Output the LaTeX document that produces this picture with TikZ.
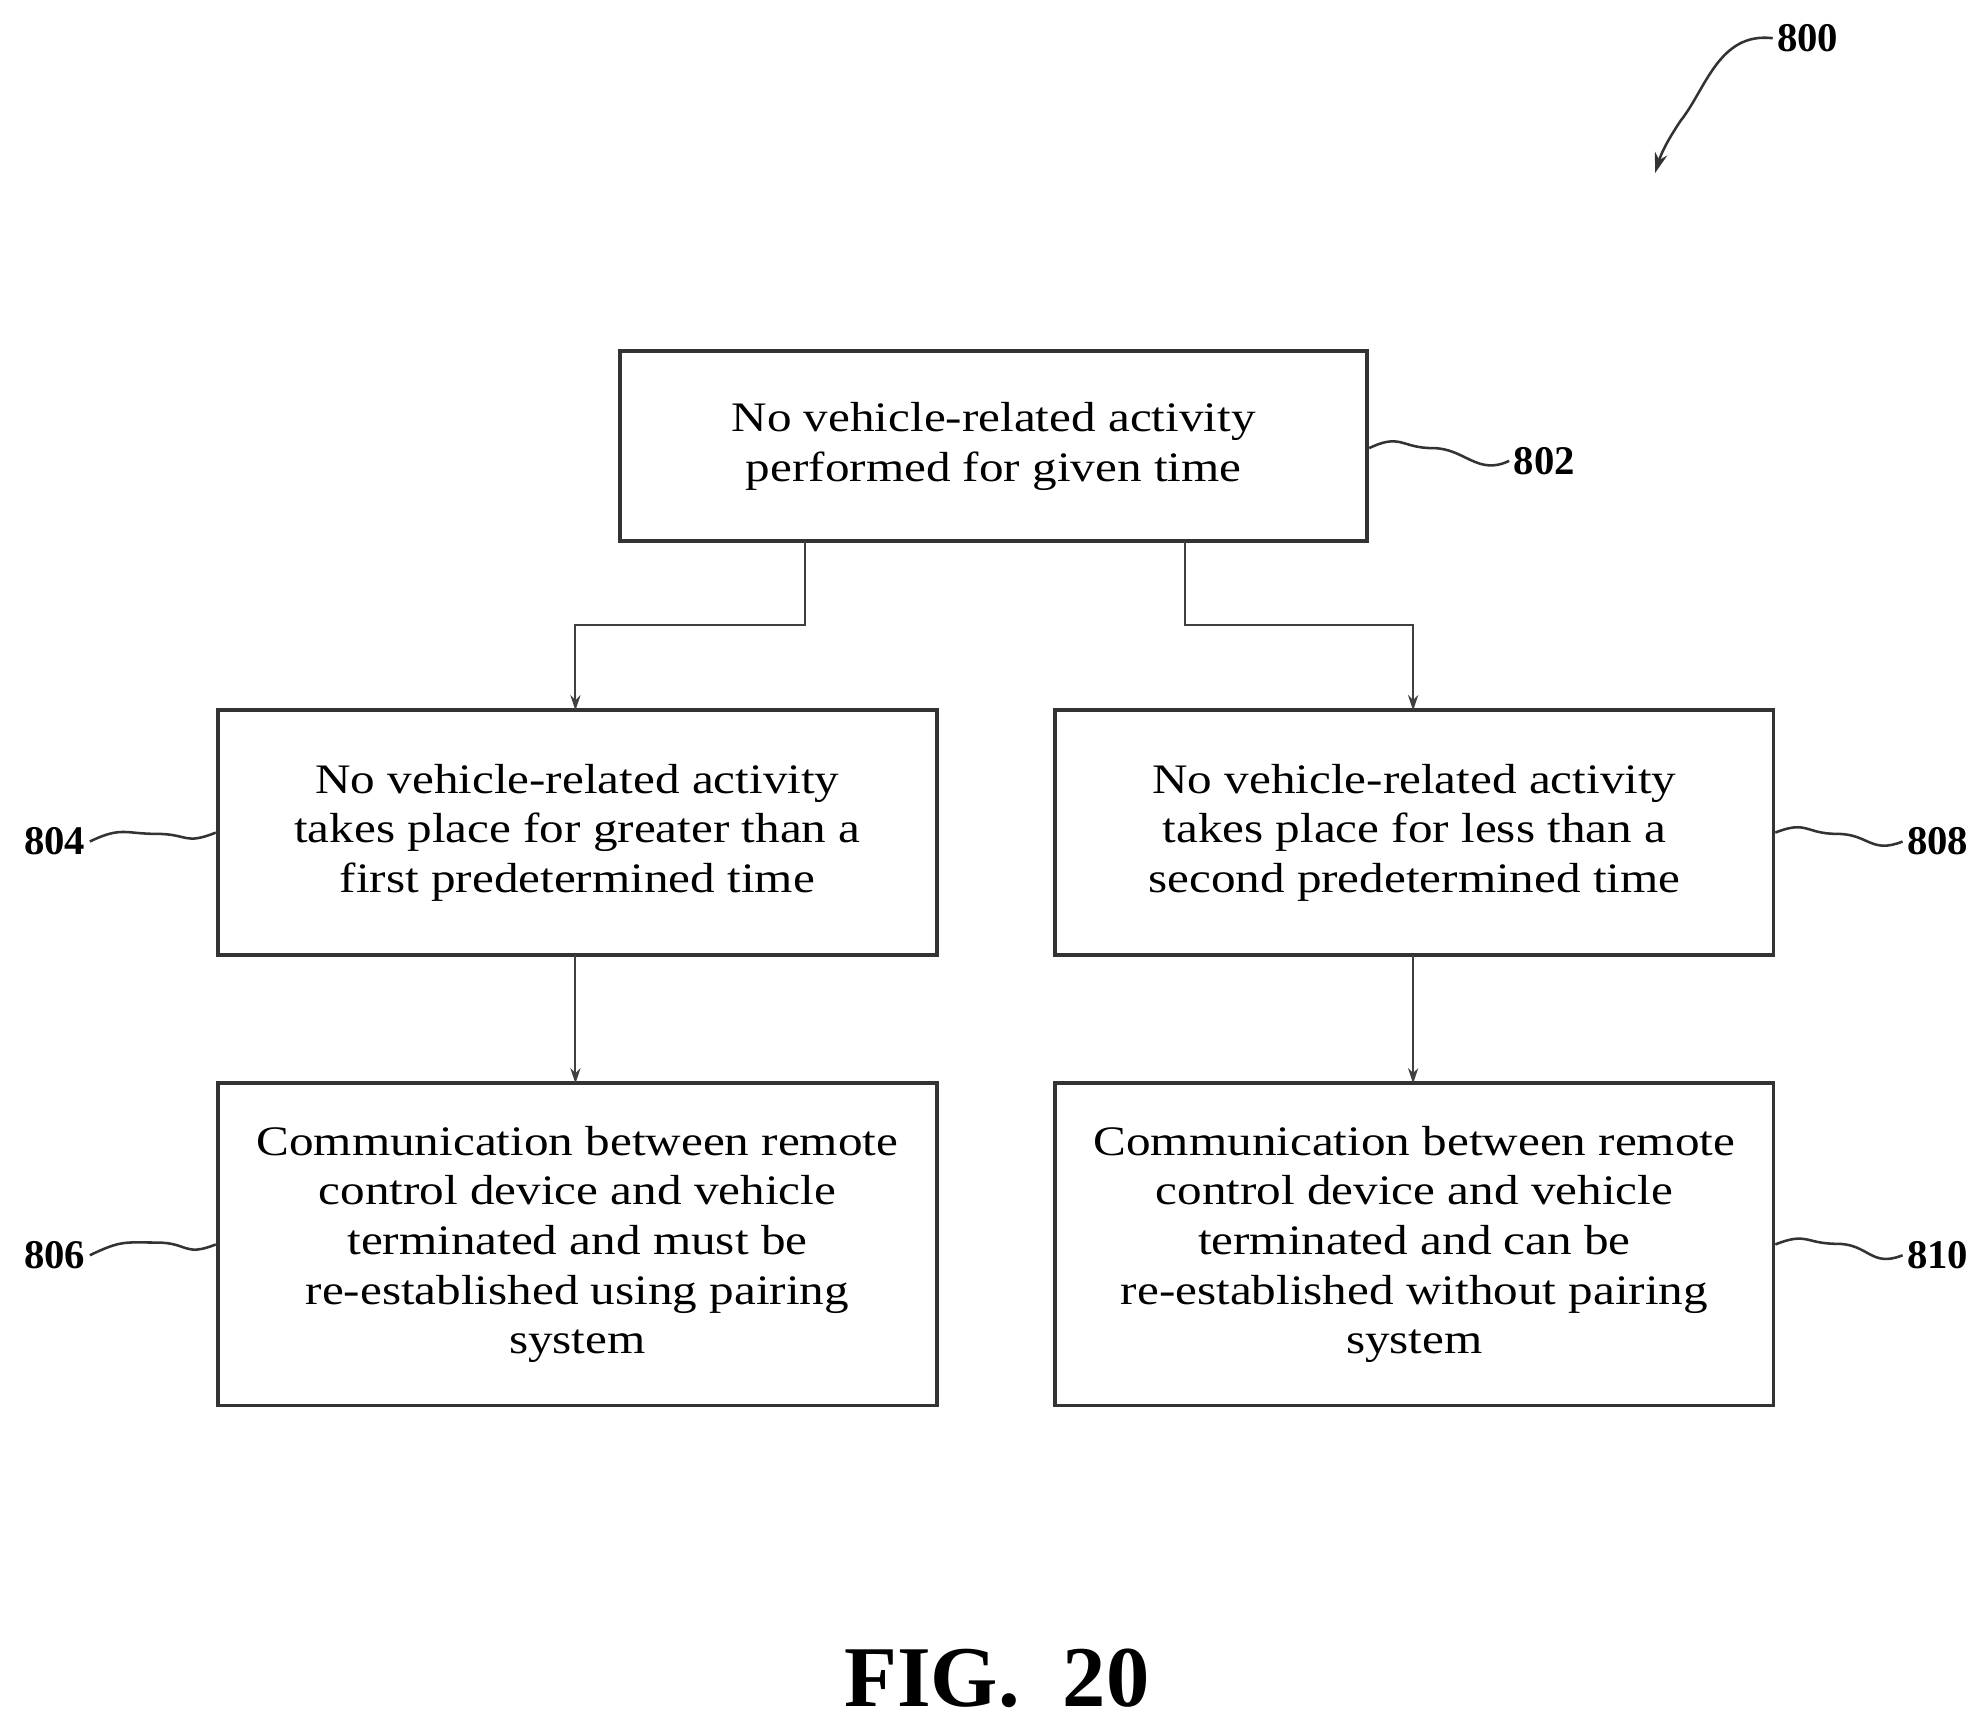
\documentclass[tikz,border=0pt]{standalone}
\usepackage{fontspec}
\setmainfont{Liberation Serif}
\newfontfamily\wide[FakeStretch=1.17]{Liberation Serif}
\usetikzlibrary{arrows.meta}
\begin{document}
\begin{tikzpicture}[x=1pt,y=-1pt,
 box/.style={draw=black!80,line width=3pt,inner sep=0pt,align=center,font=\wide\fontsize{33}{39}\selectfont},
 lab/.style={font=\fontsize{32}{36}\selectfont\bfseries},
 conn/.style={draw=black!75,line width=1.6pt,-{Stealth[length=12pt,width=8pt]}},
 wav/.style={draw=black!80,line width=2pt}]
\useasboundingbox (0,0) rectangle (1560,1357);
\node[box,minimum width=587pt,minimum height=149pt] (b802) at (780.5,350.5) {No vehicle-related activity\\performed for given time};
\node[box,minimum width=565pt,minimum height=192pt] (b804) at (453.5,654) {No vehicle-related activity\\takes place for greater than a\\first predetermined time};
\node[box,minimum width=564pt,minimum height=192pt] (b808) at (1111,654) {No vehicle-related activity\\takes place for less than a\\second predetermined time};
\node[box,minimum width=565pt,minimum height=253pt] (b806) at (453.5,977.5) {Communication between remote\\control device and vehicle\\terminated and must be\\re-established using pairing\\system};
\node[box,minimum width=564pt,minimum height=253pt] (b810) at (1111,977.5) {Communication between remote\\control device and vehicle\\terminated and can be\\re-established without pairing\\system};
\coordinate (s1) at (632,425); \coordinate (t1) at (452,558);
\coordinate (s2) at (931,425); \coordinate (t2) at (1110,558);
\draw[conn] (s1) -- (632,491) -- (452,491) -- (t1);
\draw[conn] (s2) -- (931,491) -- (1110,491) -- (t2);
\coordinate (s3) at (452,750); \coordinate (t3) at (452,851);
\coordinate (s4) at (1110,750); \coordinate (t4) at (1110,851);
\draw[conn] (s3) -- (t3);
\draw[conn] (s4) -- (t4);
\node[lab] (l802) at (1213,362) {802};
\node[lab] (l804) at (43,661) {804};
\node[lab] (l808) at (1522,661) {808};
\node[lab] (l806) at (43,986) {806};
\node[lab] (l810) at (1522,986) {810};
\node[lab] (l800) at (1420,30) {800};
\draw[wav] (b802.east |- 0,352) .. controls +(25,-12) and +(-25,0) .. +(50,0) .. controls +(25,0) and +(-25,12) .. (l802.west);
\draw[wav] (l804.east) .. controls +(25,-12) and +(-25,0) .. (123,655) .. controls +(25,0) and +(-25,10) .. (b804.west);
\draw[wav] (b808.east) .. controls +(25,-10) and +(-25,0) .. (1443,655) .. controls +(25,0) and +(-25,10) .. (l808.west);
\draw[wav] (l806.east) .. controls +(25,-12) and +(-25,0) .. (123,976) .. controls +(25,0) and +(-25,10) .. (b806.west);
\draw[wav] (b810.east) .. controls +(25,-10) and +(-25,0) .. (1443,977) .. controls +(25,0) and +(-25,10) .. (l810.west);
\coordinate (a800) at (1300,136);
\draw[draw=black!80,line width=2pt,-{Stealth[length=16pt,width=10pt]}] (l800.west) .. controls (1350,25) and (1340,70) .. (1320,95) .. controls (1310,110) and (1305,120) .. (a800);
\node[font=\fontsize{68}{76}\selectfont\bfseries] (fig) at (783,1318) {FIG.\ \ 20};
\end{tikzpicture}
\end{document}
